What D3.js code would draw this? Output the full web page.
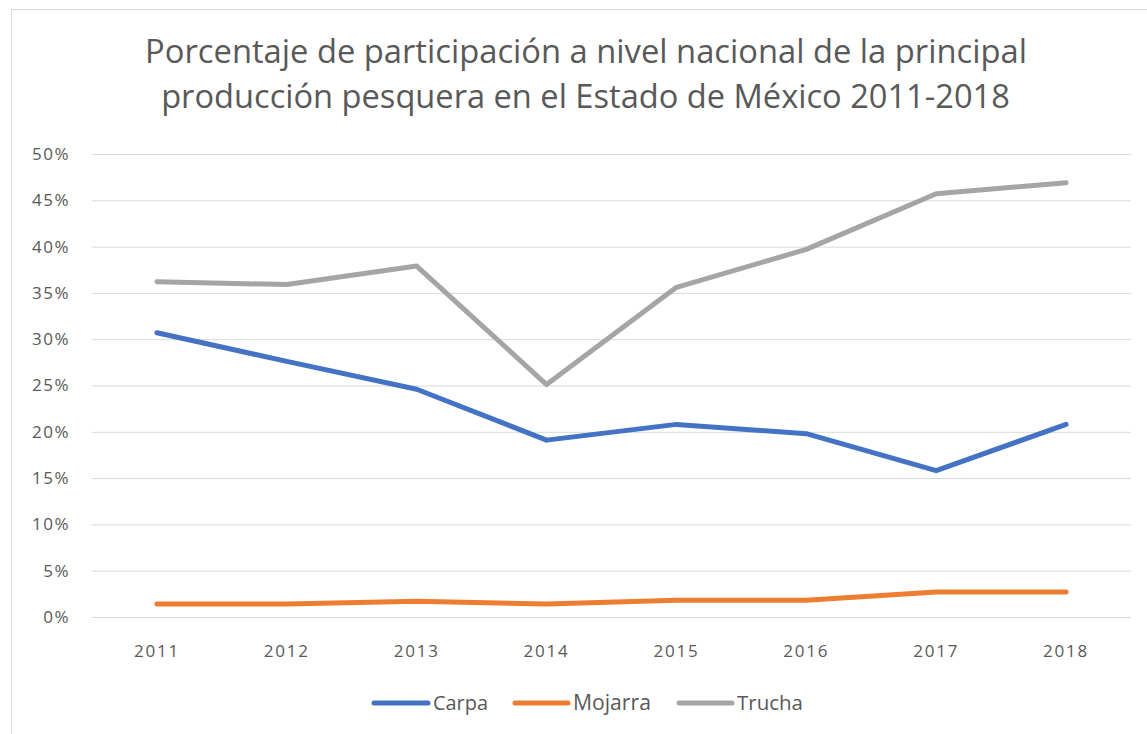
<!DOCTYPE html>
<html><head><meta charset="utf-8">
<script src="https://cdn.jsdelivr.net/npm/d3@7"></script>
<style>body{margin:0;background:#fff}svg{display:block}</style>
</head><body>
<script>
const years = ["2011","2012","2013","2014","2015","2016","2017","2018"];
const carpa = [30.7, 27.6, 24.6, 19.1, 20.8, 19.8, 15.8, 20.8];
const mojarra = [1.4, 1.4, 1.7, 1.4, 1.8, 1.8, 2.7, 2.7];
const trucha = [36.2, 35.9, 37.9, 25.1, 35.6, 39.7, 45.7, 46.9];
const yTicks = [0,5,10,15,20,25,30,35,40,45,50];
const seriesNames = ["Carpa","Mojarra","Trucha"];
const titleLines = ["Porcentaje de participación a nivel nacional de la principal",
                    "producción pesquera en el Estado de México 2011-2018"];

const series = [
  {name: seriesNames[0], values: carpa, color: "#4472C4"},
  {name: seriesNames[1], values: mojarra, color: "#ED7D31"},
  {name: seriesNames[2], values: trucha, color: "#A5A5A5"}
];

const W = 1147, H = 734;
const svg = d3.select("body").append("svg").attr("width", W).attr("height", H);
const font = "'Open Sans', 'Liberation Sans', sans-serif";
const txt = "#595959";

// chart border
svg.append("rect").attr("x", 11.5).attr("y", 9.5).attr("width", W + 10).attr("height", H + 10)
  .attr("fill", "none").attr("stroke", "#d9d9d9").attr("stroke-width", 1);

const x = d3.scaleBand().domain(years).range([92, 1131]);
const y = d3.scaleLinear().domain([0, 50]).range([617, 154]);

function fit(el, target, base) {
  const w = el.node().getComputedTextLength();
  el.style("font-size", (base * target / w) + "px");
}

// title
const titleTargets = [[145, 1027, 63], [161, 1010, 108]];
titleLines.forEach((t, i) => {
  const el = svg.append("text").text(t)
    .attr("x", (titleTargets[i][0] + titleTargets[i][1]) / 2)
    .attr("y", titleTargets[i][2])
    .attr("text-anchor", "middle")
    .attr("fill", txt)
    .style("font-family", font)
    .style("font-size", "28px");
  fit(el, titleTargets[i][1] - titleTargets[i][0], 28);
});

// gridlines
svg.append("g").selectAll("line").data(yTicks).join("line")
  .attr("x1", 92).attr("x2", 1131)
  .attr("y1", d => y(d) + 0.5).attr("y2", d => y(d) + 0.5)
  .attr("stroke", "#d9d9d9").attr("stroke-width", 1);

// y axis labels
const yAxis = svg.append("g").attr("transform", "translate(70,0)")
  .call(d3.axisLeft(y).tickValues(yTicks).tickFormat(d => d + "%").tickSize(0).tickPadding(0));
yAxis.select(".domain").remove();
yAxis.selectAll("text").attr("fill", txt).style("font-family", font).style("font-size", "17px")
  .style("letter-spacing", "1.5px");

// x axis labels
const xAxis = svg.append("g").attr("transform", "translate(0,645)")
  .call(d3.axisBottom(x).tickSize(0).tickPadding(0));
xAxis.select(".domain").remove();
xAxis.selectAll("text").attr("fill", txt).style("font-family", font).style("font-size", "17px")
  .style("letter-spacing", "1.8px");

// lines
const line = d3.line().x((d, i) => x(years[i]) + x.bandwidth() / 2).y(d => y(d));
svg.append("g").selectAll("path").data(series).join("path")
  .attr("d", d => line(d.values))
  .attr("fill", "none").attr("stroke", d => d.color)
  .attr("stroke-width", 5).attr("stroke-linecap", "round").attr("stroke-linejoin", "round");

// legend
const legendPos = [[372, 433, 488], [513, 573, 651], [677, 737, 803]];
const lg = svg.append("g");
series.forEach((s, i) => {
  lg.append("line").attr("x1", legendPos[i][0] + 2).attr("x2", legendPos[i][1] - 5)
    .attr("y1", 703).attr("y2", 703).attr("stroke", s.color).attr("stroke-width", 5)
    .attr("stroke-linecap", "round");
  const t = lg.append("text").attr("x", legendPos[i][1]).attr("y", 703).attr("dy", "0.35em")
    .text(s.name).attr("fill", txt).style("font-family", font).style("font-size", "17px");
  fit(t, legendPos[i][2] - legendPos[i][1], 17);
});
</script>
</body></html>
